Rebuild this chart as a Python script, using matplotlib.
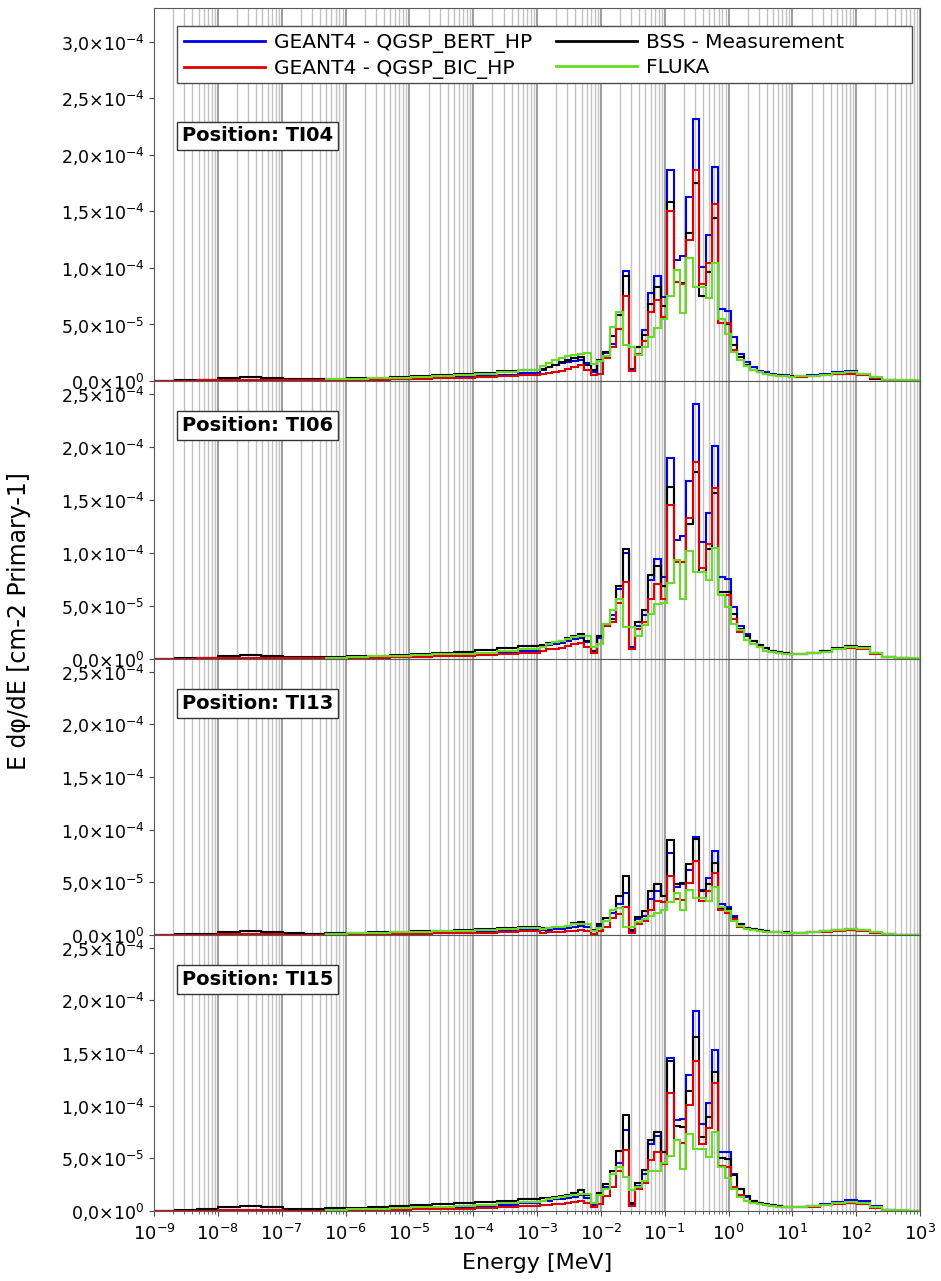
import numpy as np
import matplotlib.pyplot as plt
from matplotlib.lines import Line2D
from matplotlib.patches import Rectangle
from matplotlib.ticker import FuncFormatter, LogLocator

# bin edges (log10 of energy in MeV): coarse below 1e-3, 10/decade in the peak, coarse tail
edges_log = np.concatenate([
    np.linspace(-9.0, -2.96, 19)[:-1],
    np.round(np.arange(-30, 10) / 10 + 0.04, 2),
    np.linspace(1.04, 3.0, 11),
])
edges = 10 ** edges_log

nan = np.nan
positions = ['TI04', 'TI06', 'TI13', 'TI15']

# values in units of 1e-4 cm-2 per primary
ti04_bert = [0.003, 0.004, 0.006, 0.009, 0.011, 0.010, 0.008, 0.008, 0.011, 0.014, 0.018, 0.021, 0.025, 0.030, 0.036, 0.044, 0.055, 0.070,
             0.10, 0.12, 0.14, 0.16, 0.17, 0.18, 0.19, 0.16, 0.08, 0.18, 0.25, 0.33, 0.58, 0.97, 0.11, 0.30, 0.45, 0.78, 0.93, 0.74,
             1.87, 1.07, 1.11, 1.63, 2.32, 1.01, 1.29, 1.89, 0.64, 0.62, 0.39, 0.24, 0.17, 0.12, 0.09, 0.075, 0.065, 0.055, 0.05, 0.048,
             0.045, 0.05, 0.065, 0.08, 0.09, 0.065, 0.03, 0.008, 0.004, 0.003]
ti04_bss = [0.004, 0.006, 0.012, 0.025, 0.035, 0.030, 0.018, 0.014, 0.020, 0.025, 0.030, 0.035, 0.042, 0.052, 0.062, 0.072, 0.085, 0.098,
            0.11, 0.12, 0.14, 0.17, 0.19, 0.20, 0.21, 0.14, 0.10, 0.19, 0.26, 0.40, 0.58, 0.93, 0.10, 0.30, 0.41, 0.68, 0.83, 0.66,
            1.58, 0.88, 0.87, 1.31, 1.75, 0.75, 0.96, 1.44, 0.51, 0.50, 0.32, 0.21, 0.14, 0.10, 0.08, 0.065, 0.055, 0.05, 0.045, 0.04,
            0.038, 0.042, 0.05, 0.062, 0.068, 0.055, 0.02, 0.005, 0.003, 0.002]
ti04_bic = [0.003, 0.004, 0.005, 0.007, 0.009, 0.008, 0.006, 0.006, 0.008, 0.010, 0.012, 0.015, 0.018, 0.022, 0.026, 0.031, 0.040, 0.050,
            0.06, 0.07, 0.08, 0.09, 0.11, 0.12, 0.14, 0.10, 0.05, 0.06, 0.20, 0.30, 0.46, 0.75, 0.09, 0.24, 0.35, 0.61, 0.72, 0.57,
            1.50, 0.88, 0.86, 1.25, 1.87, 0.86, 1.04, 1.57, 0.51, 0.51, 0.27, 0.19, 0.13, 0.095, 0.075, 0.06, 0.05, 0.045, 0.04, 0.038,
            0.038, 0.042, 0.05, 0.06, 0.065, 0.055, 0.022, 0.006, 0.003, 0.002]
ti04_fluka = [nan, nan, nan, nan, nan, nan, nan, nan, 0.014, 0.019, 0.024, 0.030, 0.036, 0.043, 0.050, 0.060, 0.075, 0.095,
              0.13, 0.16, 0.19, 0.20, 0.22, 0.23, 0.24, 0.25, 0.15, 0.18, 0.22, 0.48, 0.61, 0.32, 0.30, 0.23, 0.30, 0.39, 0.47, 0.55,
              0.75, 0.98, 0.60, 1.09, 0.83, 0.83, 0.73, 1.04, 0.55, 0.42, 0.26, 0.19, 0.13, 0.095, 0.075, 0.06, 0.05, 0.045, 0.04, 0.038,
              0.04, 0.045, 0.055, 0.068, 0.075, 0.065, 0.035, 0.012, 0.006, 0.005]

ti06_bert = [0.003, 0.004, 0.006, 0.009, 0.011, 0.010, 0.008, 0.008, 0.011, 0.014, 0.018, 0.022, 0.027, 0.033, 0.040, 0.050, 0.062, 0.080,
             0.11, 0.13, 0.14, 0.15, 0.17, 0.19, 0.20, 0.16, 0.08, 0.20, 0.31, 0.41, 0.66, 1.00, 0.11, 0.31, 0.41, 0.74, 0.94, 0.77,
             1.89, 1.12, 1.16, 1.68, 2.40, 1.10, 1.38, 2.01, 0.77, 0.75, 0.49, 0.31, 0.24, 0.17, 0.13, 0.10, 0.08, 0.065, 0.055, 0.05,
             0.05, 0.06, 0.08, 0.10, 0.12, 0.11, 0.06, 0.02, 0.006, 0.003]
ti06_bss = [0.004, 0.007, 0.014, 0.028, 0.038, 0.032, 0.020, 0.015, 0.022, 0.027, 0.033, 0.040, 0.048, 0.058, 0.070, 0.085, 0.100, 0.120,
            0.13, 0.15, 0.16, 0.17, 0.20, 0.22, 0.24, 0.17, 0.08, 0.22, 0.33, 0.38, 0.69, 1.04, 0.09, 0.35, 0.46, 0.79, 0.88, 0.69,
            1.62, 0.91, 0.91, 1.27, 1.76, 0.82, 1.04, 1.56, 0.63, 0.63, 0.42, 0.28, 0.22, 0.17, 0.13, 0.10, 0.08, 0.065, 0.055, 0.05,
            0.05, 0.06, 0.08, 0.10, 0.12, 0.11, 0.06, 0.02, 0.006, 0.003]
ti06_bic = [0.003, 0.004, 0.005, 0.007, 0.009, 0.008, 0.006, 0.006, 0.008, 0.010, 0.013, 0.016, 0.020, 0.024, 0.029, 0.035, 0.045, 0.056,
            0.08, 0.09, 0.09, 0.10, 0.12, 0.14, 0.15, 0.11, 0.06, 0.14, 0.31, 0.35, 0.53, 0.73, 0.09, 0.28, 0.35, 0.57, 0.71, 0.57,
            1.45, 0.91, 0.91, 1.33, 1.86, 0.86, 1.08, 1.61, 0.60, 0.60, 0.38, 0.25, 0.18, 0.14, 0.11, 0.08, 0.065, 0.055, 0.05, 0.045,
            0.045, 0.055, 0.07, 0.09, 0.10, 0.09, 0.05, 0.015, 0.005, 0.003]
ti06_fluka = [nan, nan, nan, nan, nan, nan, nan, nan, 0.014, 0.019, 0.024, 0.030, 0.036, 0.043, 0.050, 0.060, 0.075, 0.095,
              0.11, 0.14, 0.16, 0.17, 0.19, 0.21, 0.22, 0.22, 0.11, 0.14, 0.33, 0.46, 0.57, 0.30, 0.30, 0.22, 0.32, 0.42, 0.52, 0.53,
              0.72, 0.93, 0.57, 1.02, 0.82, 0.82, 0.74, 1.05, 0.60, 0.49, 0.33, 0.27, 0.18, 0.14, 0.11, 0.08, 0.065, 0.055, 0.05, 0.045,
              0.045, 0.055, 0.07, 0.09, 0.11, 0.10, 0.06, 0.02, 0.008, 0.005]

ti13_bert = [0.002, 0.003, 0.005, 0.008, 0.010, 0.009, 0.007, 0.007, 0.009, 0.011, 0.014, 0.017, 0.020, 0.024, 0.028, 0.034, 0.042, 0.052,
             0.05, 0.05, 0.06, 0.06, 0.07, 0.08, 0.09, 0.08, 0.04, 0.09, 0.13, 0.21, 0.29, 0.40, 0.04, 0.15, 0.18, 0.34, 0.42, 0.37,
             0.78, 0.46, 0.48, 0.62, 0.93, 0.43, 0.54, 0.80, 0.29, 0.27, 0.18, 0.10, 0.07, 0.055, 0.045, 0.038, 0.032, 0.028, 0.025, 0.024,
             0.024, 0.03, 0.038, 0.048, 0.055, 0.048, 0.025, 0.008, 0.003, 0.002]
ti13_bss = [0.004, 0.007, 0.013, 0.026, 0.034, 0.030, 0.018, 0.013, 0.018, 0.022, 0.026, 0.030, 0.035, 0.041, 0.048, 0.056, 0.065, 0.075,
            0.07, 0.07, 0.08, 0.08, 0.09, 0.11, 0.12, 0.10, 0.05, 0.10, 0.16, 0.24, 0.37, 0.56, 0.05, 0.17, 0.23, 0.42, 0.48, 0.37,
            0.90, 0.48, 0.49, 0.67, 0.91, 0.42, 0.48, 0.68, 0.26, 0.25, 0.16, 0.10, 0.07, 0.055, 0.045, 0.038, 0.032, 0.028, 0.025, 0.023,
            0.022, 0.026, 0.034, 0.045, 0.052, 0.045, 0.022, 0.006, 0.003, 0.002]
ti13_bic = [0.002, 0.003, 0.004, 0.006, 0.008, 0.007, 0.005, 0.005, 0.006, 0.008, 0.010, 0.012, 0.014, 0.017, 0.020, 0.024, 0.030, 0.038,
            0.02, 0.025, 0.03, 0.03, 0.035, 0.04, 0.05, 0.04, 0.01, 0.04, 0.08, 0.16, 0.20, 0.27, 0.02, 0.10, 0.13, 0.24, 0.32, 0.31,
            0.56, 0.34, 0.33, 0.49, 0.70, 0.32, 0.42, 0.59, 0.24, 0.21, 0.15, 0.08, 0.06, 0.045, 0.038, 0.032, 0.028, 0.025, 0.022, 0.02,
            0.02, 0.025, 0.032, 0.04, 0.045, 0.04, 0.02, 0.006, 0.003, 0.002]
ti13_fluka = [nan, nan, nan, nan, nan, nan, nan, nan, 0.012, 0.016, 0.020, 0.025, 0.030, 0.035, 0.041, 0.048, 0.057, 0.068,
              0.06, 0.07, 0.08, 0.08, 0.09, 0.10, 0.10, 0.10, 0.04, 0.07, 0.13, 0.24, 0.26, 0.08, 0.08, 0.12, 0.15, 0.18, 0.21, 0.24,
              0.31, 0.40, 0.24, 0.43, 0.35, 0.35, 0.32, 0.46, 0.27, 0.23, 0.13, 0.09, 0.06, 0.045, 0.038, 0.032, 0.028, 0.025, 0.022, 0.02,
              0.022, 0.028, 0.036, 0.048, 0.055, 0.05, 0.028, 0.01, 0.005, 0.004]

ti15_bert = [0.003, 0.004, 0.006, 0.009, 0.011, 0.010, 0.008, 0.008, 0.011, 0.014, 0.018, 0.022, 0.027, 0.033, 0.040, 0.050, 0.062, 0.078,
             0.10, 0.10, 0.11, 0.11, 0.12, 0.13, 0.15, 0.12, 0.06, 0.15, 0.23, 0.35, 0.46, 0.77, 0.07, 0.24, 0.35, 0.64, 0.71, 0.56,
             1.45, 0.86, 0.87, 1.29, 1.90, 0.83, 1.03, 1.53, 0.56, 0.56, 0.35, 0.21, 0.13, 0.10, 0.08, 0.065, 0.055, 0.048, 0.042, 0.04,
             0.04, 0.05, 0.07, 0.09, 0.105, 0.095, 0.05, 0.012, 0.004, 0.003]
ti15_bss = [0.005, 0.010, 0.020, 0.038, 0.045, 0.040, 0.022, 0.018, 0.025, 0.032, 0.040, 0.048, 0.056, 0.065, 0.075, 0.088, 0.100, 0.115,
            0.12, 0.12, 0.13, 0.14, 0.15, 0.17, 0.20, 0.15, 0.08, 0.17, 0.26, 0.38, 0.57, 0.91, 0.08, 0.27, 0.39, 0.67, 0.75, 0.56,
            1.42, 0.81, 0.80, 1.14, 1.65, 0.70, 0.89, 1.32, 0.50, 0.49, 0.34, 0.21, 0.14, 0.10, 0.08, 0.065, 0.055, 0.048, 0.042, 0.04,
            0.038, 0.045, 0.06, 0.075, 0.08, 0.07, 0.035, 0.008, 0.003, 0.002]
ti15_bic = [0.002, 0.003, 0.004, 0.006, 0.008, 0.007, 0.005, 0.005, 0.007, 0.009, 0.011, 0.014, 0.017, 0.020, 0.024, 0.029, 0.036, 0.045,
            0.06, 0.06, 0.07, 0.07, 0.08, 0.09, 0.10, 0.08, 0.04, 0.07, 0.14, 0.23, 0.38, 0.58, 0.05, 0.21, 0.27, 0.48, 0.56, 0.45,
            1.12, 0.67, 0.65, 1.01, 1.42, 0.64, 0.79, 1.22, 0.43, 0.42, 0.23, 0.15, 0.10, 0.08, 0.065, 0.055, 0.048, 0.042, 0.038, 0.035,
            0.035, 0.042, 0.055, 0.068, 0.075, 0.065, 0.032, 0.008, 0.003, 0.002]
ti15_fluka = [nan, nan, nan, nan, nan, nan, nan, nan, 0.014, 0.019, 0.024, 0.030, 0.036, 0.043, 0.050, 0.060, 0.072, 0.088,
              0.10, 0.11, 0.12, 0.13, 0.14, 0.15, 0.16, 0.16, 0.08, 0.15, 0.21, 0.35, 0.42, 0.32, 0.20, 0.23, 0.29, 0.38, 0.38, 0.46,
              0.52, 0.67, 0.40, 0.73, 0.59, 0.59, 0.51, 0.75, 0.42, 0.31, 0.21, 0.13, 0.10, 0.08, 0.065, 0.055, 0.048, 0.042, 0.038, 0.035,
              0.036, 0.045, 0.06, 0.075, 0.082, 0.072, 0.04, 0.012, 0.006, 0.005]

bert = [ti04_bert, ti06_bert, ti13_bert, ti15_bert]
bss = [ti04_bss, ti06_bss, ti13_bss, ti15_bss]
bic = [ti04_bic, ti06_bic, ti13_bic, ti15_bic]
fluka = [ti04_fluka, ti06_fluka, ti13_fluka, ti15_fluka]

labels = ['GEANT4 - QGSP_BERT_HP', 'GEANT4 - QGSP_BIC_HP', 'BSS - Measurement', 'FLUKA']
c_bert, c_bic, c_bss, c_fluka = '#0000e6', '#dd0000', '#000000', '#66dd22'


def sci_comma(v, pos):
    if v == 0:
        return '0,0×10$^{0}$'
    e = int(np.floor(np.log10(abs(v)) + 1e-9))
    m = ('%.1f' % (v / 10 ** e)).replace('.', ',')
    return '%s×10$^{%d}$' % (m, e)


def draw(ax, vals, color):
    v = np.array(vals) * 1e-4
    ok = np.where(~np.isnan(v))[0]
    i0 = ok[0]
    ax.stairs(v[i0:], edges[i0:], color=color, lw=1.5, baseline=None)


fig = plt.figure(figsize=(9.41, 12.81), dpi=100)
gs = fig.add_gridspec(4, 1, height_ratios=[373, 278, 276, 276], hspace=0,
                      left=0.1637, right=0.9777, top=0.9938, bottom=0.0546)

axes = []
for i in range(4):
    ax = fig.add_subplot(gs[i], sharex=axes[0] if axes else None)
    axes.append(ax)
    draw(ax, bert[i], c_bert)
    draw(ax, bss[i], c_bss)
    draw(ax, bic[i], c_bic)
    draw(ax, fluka[i], c_fluka)

    ax.set_xscale('log')
    ax.set_xlim(1e-9, 1e3)
    ax.xaxis.set_major_locator(LogLocator(base=10, numticks=20))
    ax.xaxis.set_minor_locator(LogLocator(base=10, subs=np.arange(2, 10), numticks=20))
    ax.grid(True, which='major', axis='x', color='#8c8c8c', lw=1.2)
    ax.grid(True, which='minor', axis='x', color='#c2c2c2', lw=1.0)
    ax.set_axisbelow(True)

    if i == 0:
        ax.set_ylim(0, 3.3e-4)
        ax.set_yticks(np.arange(0, 3.01e-4, 0.5e-4))
        ypos = 0.657
    else:
        ax.set_ylim(0, 2.62e-4)
        ax.set_yticks(np.arange(0, 2.51e-4, 0.5e-4))
        ypos = 0.84
    ax.yaxis.set_major_formatter(FuncFormatter(sci_comma))
    ax.tick_params(axis='y', labelsize=12.5, color='0.3')
    ax.tick_params(axis='x', which='both', labelsize=13, color='0.3', pad=6,
                   labelbottom=(i == 3))
    for s in ax.spines.values():
        s.set_color('0.35')

    ax.text(0.036, ypos, 'Position: ' + positions[i], transform=ax.transAxes,
            fontsize=14, fontweight='bold', ha='left', va='center', zorder=6,
            bbox=dict(boxstyle='square,pad=0.25', facecolor='white', edgecolor='0.2', lw=1))

# legend box in the top panel
ax0 = axes[0]
ax0.add_patch(Rectangle((0.030, 0.799), 0.960, 0.153, transform=ax0.transAxes,
                        facecolor='white', edgecolor='0.3', lw=1, zorder=5))
handles = [Line2D([], [], color=c, lw=2) for c in (c_bert, c_bic, c_bss, c_fluka)]
leg = ax0.legend(handles, labels, ncol=2, loc='upper left', bbox_to_anchor=(0.030, 0.952),
                 frameon=False, fontsize=14.5, handlelength=4.0, handletextpad=0.45,
                 columnspacing=1.2, labelspacing=0.3, borderpad=0.35, borderaxespad=0)
leg.set_zorder(6)

axes[3].set_xlabel('Energy [MeV]', fontsize=16, labelpad=6)
fig.text(0.02, 0.515, 'E dφ/dE [cm-2 Primary-1]', rotation=90, ha='center', va='center', fontsize=17)

fig.savefig('out.png', dpi=100)
